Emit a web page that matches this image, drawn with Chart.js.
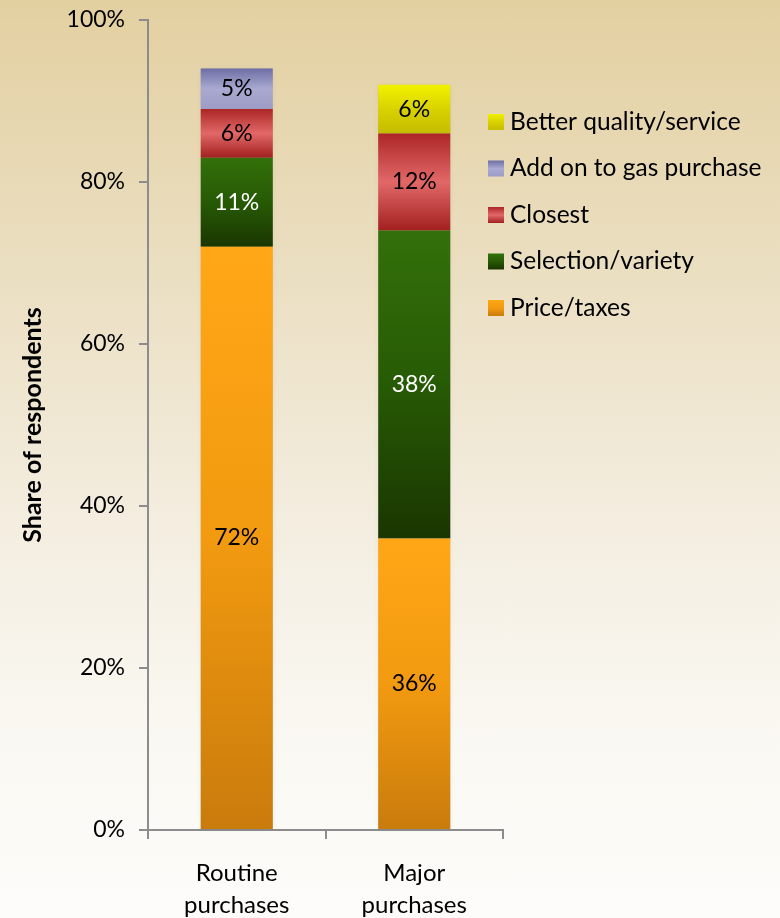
<!DOCTYPE html>
<html>
<head>
<meta charset="utf-8">
<script src="https://cdn.jsdelivr.net/npm/chart.js@4.4.0/dist/chart.umd.min.js"></script>
<style>
  html, body { margin: 0; padding: 0; }
  body {
    width: 780px; height: 918px; overflow: hidden;
    background: linear-gradient(to bottom, #e3d0a1 0%, #ebdfc2 30%, #f4eee1 58%, #faf8f2 80%, #fdfcfa 100%);
  }
  #wrap { position: relative; width: 780px; height: 918px; }
</style>
</head>
<body>
<div id="wrap"><canvas id="chart" width="780" height="918"></canvas></div>
<script>
// Data (percent of respondents)
const categories = [['Routine', 'purchases'], ['Major', 'purchases']];
const priceTaxes = [72, 36];
const selectionVariety = [11, 38];
const closest = [6, 12];
const addOnGas = [5, 0];
const betterQuality = [0, 6];
const yTicks = [0, 20, 40, 60, 80, 100];

const FONT = 'Lato, "Open Sans", sans-serif';

// gradient stops per series, top -> bottom
const series = [
  { label: 'Price/taxes', data: priceTaxes, stops: ['#ffa716', '#f29a10', '#c97b0c'], text: '#000' },
  { label: 'Selection/variety', data: selectionVariety, stops: ['#33700a', '#275a05', '#1a3601'], text: '#fff' },
  { label: 'Closest', data: closest, stops: ['#ad2626', '#e26868', '#a21f1f'], text: '#000' },
  { label: 'Add on to gas purchase', data: addOnGas, stops: ['#6e6ea6', '#a9a9d1', '#9c9cc6'], text: '#000' },
  { label: 'Better quality/service', data: betterQuality, stops: ['#f2f200', '#d9d200', '#c4bc00'], text: '#000' }
];

function makeGrad(ctx, top, bottom, stops) {
  const g = ctx.createLinearGradient(0, top, 0, bottom);
  stops.forEach((c, i) => g.addColorStop(i / (stops.length - 1), c));
  return g;
}

function segColor(context) {
  const chart = context.chart;
  const s = series[context.datasetIndex];
  const y = chart.scales.y;
  if (!chart.chartArea || !y || context.dataIndex === undefined) return s.stops[1];
  let start = 0;
  for (let i = 0; i < context.datasetIndex; i++) start += series[i].data[context.dataIndex];
  const end = start + s.data[context.dataIndex];
  const top = y.getPixelForValue(end), bottom = y.getPixelForValue(start);
  if (!(bottom - top > 0)) return s.stops[1];
  return makeGrad(chart.ctx, top, bottom, s.stops);
}

// value labels in the middle of each segment
const segLabels = {
  id: 'segLabels',
  afterDatasetsDraw(chart) {
    const ctx = chart.ctx;
    ctx.save();
    ctx.font = '23px ' + FONT;
    ctx.textAlign = 'center';
    ctx.textBaseline = 'middle';
    chart.data.datasets.forEach((ds, i) => {
      chart.getDatasetMeta(i).data.forEach((bar, j) => {
        const v = ds.data[j];
        if (!v) return;
        ctx.fillStyle = series[i].text;
        ctx.fillText(v + '%', bar.x, (bar.y + bar.base) / 2);
      });
    });
    ctx.restore();
  }
};

// legend drawn by hand so it can sit where the original has it
const sideLegend = {
  id: 'sideLegend',
  afterDraw(chart) {
    const ctx = chart.ctx;
    ctx.save();
    ctx.font = '24.5px ' + FONT;
    ctx.textBaseline = 'middle';
    const items = series.slice().reverse();
    items.forEach((s, k) => {
      const cy = 122 + k * 46.5;
      ctx.fillStyle = makeGrad(ctx, cy - 8, cy + 8, s.stops);
      ctx.fillRect(488, cy - 8, 16, 16);
      ctx.fillStyle = '#000';
      ctx.fillText(s.label, 510, cy);
    });
    ctx.restore();
  }
};

// soft shadow behind the bars
const barShadow = {
  id: 'barShadow',
  beforeDatasetsDraw(chart) {
    const ctx = chart.ctx;
    ctx.save();
    ctx.shadowColor = 'rgba(0,0,0,0.25)';
    ctx.shadowBlur = 6;
    ctx.fillStyle = 'rgba(0,0,0,0.15)';
    const meta0 = chart.getDatasetMeta(0);
    meta0.data.forEach((bar, j) => {
      let total = 0;
      series.forEach(s => total += s.data[j]);
      const top = chart.scales.y.getPixelForValue(total);
      ctx.fillRect(bar.x - bar.width / 2, top, bar.width, bar.base - top);
    });
    ctx.restore();
  }
};

const ctx = document.getElementById('chart').getContext('2d');
new Chart(ctx, {
  type: 'bar',
  data: {
    labels: categories,
    datasets: series.map(s => ({
      label: s.label,
      data: s.data,
      backgroundColor: segColor,
      borderWidth: 0,
      categoryPercentage: 1,
      barPercentage: 0.406
    }))
  },
  options: {
    responsive: false,
    animation: false,
    layout: { padding: { top: 0, right: 277, left: 0, bottom: 0 } },
    plugins: {
      legend: { display: false },
      tooltip: { enabled: false }
    },
    scales: {
      x: {
        stacked: true,
        border: { display: true, color: '#8c8c8c', width: 2 },
        grid: { display: true, drawOnChartArea: false, drawTicks: true, tickLength: 9, color: '#8c8c8c', lineWidth: 2 },
        ticks: { color: '#000', font: { family: FONT, size: 24, lineHeight: 1.35 }, padding: 18, maxRotation: 0 },
        afterFit(scale) { scale.height = 88; }
      },
      y: {
        stacked: true,
        min: 0,
        max: 100,
        afterBuildTicks(scale) { scale.ticks = yTicks.map(v => ({ value: v })); },
        border: { display: true, color: '#8c8c8c', width: 2 },
        grid: { display: true, drawOnChartArea: false, drawTicks: true, tickLength: 9, color: '#8c8c8c', lineWidth: 2 },
        ticks: { color: '#000', font: { family: FONT, size: 23 }, padding: 14, callback: v => v + '%' },
        title: { display: true, text: 'Share of respondents', color: '#000', font: { family: FONT, size: 25, weight: 'bold' }, padding: { top: 18, bottom: 0 } },
        afterFit(scale) {
          scale.width = 148;
          scale.paddingTop = 20;
          scale.paddingBottom = 0;
        }
      }
    }
  },
  plugins: [barShadow, segLabels, sideLegend]
});
</script>
</body>
</html>
